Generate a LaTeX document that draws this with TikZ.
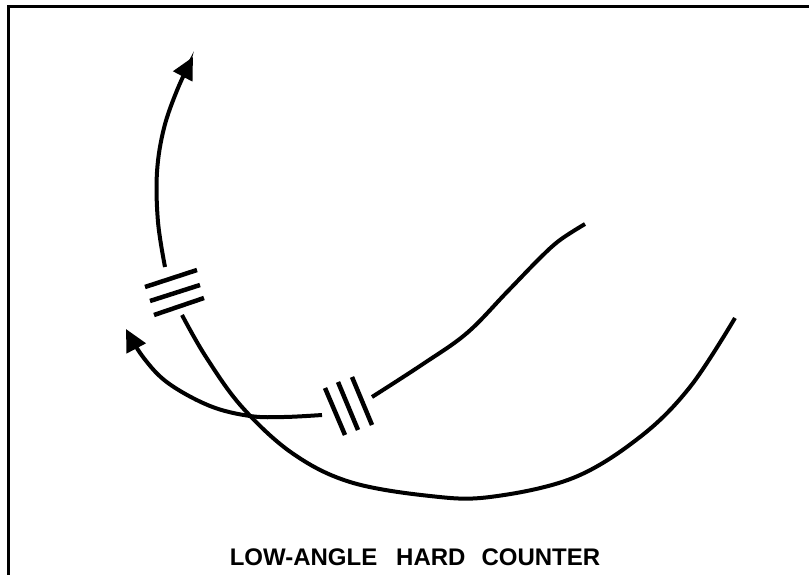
\documentclass[tikz,border=0pt]{standalone}
\usepackage{fontspec}
\setsansfont{Liberation Sans}
\usepackage{tikz}
\usetikzlibrary{arrows.meta}

\begin{document}
\begin{tikzpicture}[x=1pt,y=-1pt,
 path/.style={line width=4pt},
 hatch/.style={line width=4.5pt},
 tip/.style={-{Triangle[length=22pt,width=21pt]}},
 caption/.style={font=\sffamily\bfseries\fontsize{24}{28}\selectfont,anchor=base}]
\useasboundingbox (0,0) rectangle (809,575);
\draw[line width=2.5pt] (8.5,575) -- (8.5,6.5) -- (809,6.5);
\draw[path] plot[smooth,tension=0.6] coordinates {(735,318) (690,387) (640,437) (573,478) (490,497) (430,496) (350,482) (292,453) (242,407) (206,357) (182,315)};
\draw[path,tip] plot[smooth,tension=0.6] coordinates {(165,267) (158,222) (157,172) (164,128) (178,88) (193,57)};
\draw[path] plot[smooth,tension=0.6] coordinates {(585,224) (560,240) (540,258) (507,292) (467,333) (423,364) (372,397)};
\draw[path,tip] plot[smooth,tension=0.6] coordinates {(322,415) (284,417) (250,416) (210,406) (168,383) (143,357) (126,329)};
\draw[hatch] (145,287) -- (197,270);
\draw[hatch] (150,301) -- (200,285);
\draw[hatch] (154,315) -- (204,298);
\draw[hatch] (325,388) -- (345,435);
\draw[hatch] (338,382) -- (358,430);
\draw[hatch] (352,377) -- (372,425);
\node[caption] (title) at (415,565) {LOW-ANGLE\hspace{19pt}HARD\hspace{16pt}COUNTER};
\end{tikzpicture}
\end{document}
